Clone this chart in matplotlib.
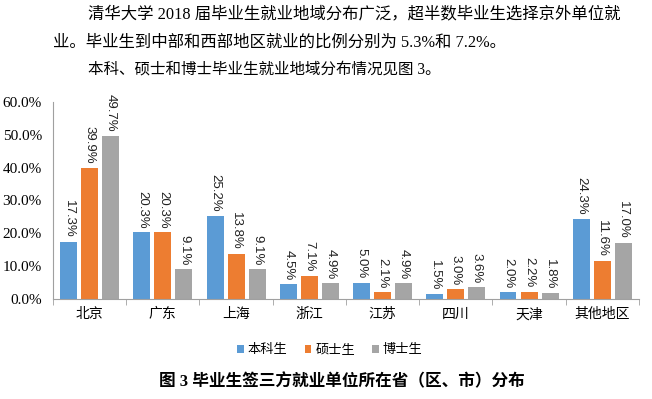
import numpy as np
import matplotlib.pyplot as plt

plt.rcParams['font.family'] = ['Liberation Serif', 'Noto Sans CJK SC', 'DejaVu Sans']

regions = ["北京", "广东", "上海", "浙江", "江苏", "四川", "天津", "其他地区"]
series = ["本科生", "硕士生", "博士生"]
benke = [17.3, 20.3, 25.2, 4.5, 5.0, 1.5, 2.0, 24.3]
shuoshi = [39.9, 20.3, 13.8, 7.1, 2.1, 3.0, 2.2, 11.6]
boshi = [49.7, 9.1, 9.1, 4.9, 4.9, 3.6, 1.8, 17.0]
colors = ["#5B9BD5", "#ED7D31", "#A5A5A5"]

para1 = "清华大学 2018 届毕业生就业地域分布广泛，超半数毕业生选择京外单位就"
para2 = "业。毕业生到中部和西部地区就业的比例分别为 5.3%和 7.2%。"
para3 = "本科、硕士和博士毕业生就业地域分布情况见图 3。"
caption = "图 3 毕业生签三方就业单位所在省（区、市）分布"

fig = plt.figure(figsize=(6.52, 3.99), dpi=100)
ax = fig.add_axes([0.0813, 0.2506, 0.8987, 0.4938])

x = np.arange(len(regions))
w = 0.23
step = 0.287
handles = []
for i, (vals, c) in enumerate(zip([benke, shuoshi, boshi], colors)):
    bars = ax.bar(x + (i - 1) * step, np.array(vals) / 100, width=w, color=c, label=series[i])
    handles.append(bars)
    for b, v in zip(bars, vals):
        ax.annotate(f"{v:.1f}%", (b.get_x() + b.get_width() / 2, b.get_height()),
                    xytext=(0, 3), textcoords="offset points", rotation=-90,
                    ha="center", va="bottom", fontsize=9.5,
                    family="Liberation Sans", color="#222222", clip_on=False)

ax.set_xlim(-0.5, len(regions) - 0.5)
ax.set_ylim(0, 0.6)
ax.set_yticks(np.arange(0, 0.61, 0.1))
ax.set_yticklabels([f"{t * 100:.1f}%" for t in np.arange(0, 0.61, 0.1)], fontsize=11)
ax.tick_params(axis="y", length=0, pad=8)
ax.set_xticks(x)
ax.set_xticklabels(regions, fontsize=10, family=["Noto Sans CJK SC"])
ax.tick_params(axis="x", length=0, pad=6)
ax.set_xticks(np.arange(-0.5, len(regions), 1), minor=True)
ax.tick_params(axis="x", which="minor", length=4, color="#A0A0A0")
for s in ["top", "right"]:
    ax.spines[s].set_visible(False)
for s in ["left", "bottom"]:
    ax.spines[s].set_color("#A0A0A0")

fig.legend(handles=handles, labels=series, loc="center", bbox_to_anchor=(330 / 652, 1 - 350 / 399),
           ncol=3, frameon=False, handlelength=0.5, handleheight=0.5,
           handletextpad=0.3, columnspacing=1.3, prop={"family": "Noto Sans CJK SC", "size": 9.5})

fig.text(88 / 652, 1 - 14 / 399, para1, fontsize=11.8, va="center", ha="left")
fig.text(53 / 652, 1 - 43 / 399, para2, fontsize=11.8, va="center", ha="left")
fig.text(88 / 652, 1 - 70 / 399, para3, fontsize=11.2, va="center", ha="left")
fig.text(342 / 652, 1 - 382 / 399, caption, fontsize=12, fontweight="bold", va="center", ha="center")

fig.savefig("out.png", dpi=100)
